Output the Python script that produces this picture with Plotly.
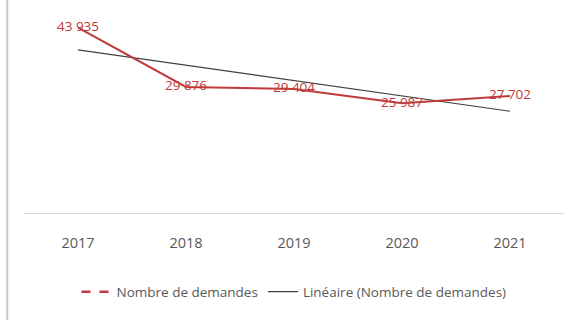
import plotly.graph_objects as go

years = ["2017", "2018", "2019", "2020", "2021"]
demandes = [43935, 29876, 29404, 25987, 27702]

serie_nom = "Nombre de demandes"
tendance_nom = "Linéaire (Nombre de demandes)"

# least-squares linear trend over the category index
n = len(demandes)
xs = list(range(n))
mx = sum(xs) / n
my = sum(demandes) / n
pente = sum((x - mx) * (y - my) for x, y in zip(xs, demandes)) / sum((x - mx) ** 2 for x in xs)
origine = my - pente * mx
tendance = [origine + pente * x for x in xs]

def fr(v):
    return f"{v:,}".replace(",", " ")

rouge = "#c0393b"
gris_txt = "#595959"
police = "Open Sans, sans-serif"

fig = go.Figure()

fig.add_trace(go.Scatter(
    x=years, y=tendance, mode="lines",
    line=dict(color="#404040", width=1.2),
    showlegend=False, hoverinfo="skip",
))

fig.add_trace(go.Scatter(
    x=years, y=demandes, mode="lines+text",
    line=dict(color=rouge, width=2),
    text=[fr(v) for v in demandes], textposition="middle center",
    textfont=dict(color=rouge, size=13.5, family=police),
    showlegend=False,
))

# legend entries
fig.add_trace(go.Scatter(
    x=[None], y=[None], mode="lines", name=serie_nom,
    line=dict(color=rouge, width=2.5, dash="dash"),
))
fig.add_trace(go.Scatter(
    x=[None], y=[None], mode="lines", name=tendance_nom,
    line=dict(color="#404040", width=1.2),
))

fig.update_layout(
    width=571, height=320,
    margin=dict(l=24, r=7, t=2, b=107),
    paper_bgcolor="white", plot_bgcolor="white",
    font=dict(family=police, color=gris_txt, size=13.5),
    xaxis=dict(
        type="category", range=[-0.5, 4.5],
        showgrid=False, zeroline=False,
        showline=True, linecolor="#d9d9d9", linewidth=1,
        ticks="", ticklabelstandoff=17,
        tickfont=dict(size=14.5, color=gris_txt, family=police),
    ),
    yaxis=dict(range=[0, 50000], visible=False),
    legend=dict(
        orientation="h", x=0.5, xanchor="center",
        y=-0.374, yanchor="middle",
        font=dict(size=13.5, color=gris_txt, family=police),
        itemwidth=30, tracegroupgap=0,
    ),
    shapes=[dict(
        type="line", xref="paper", yref="paper",
        x0=-0.031, x1=-0.031, y0=-0.6, y1=1.02,
        line=dict(color="#c8c8c8", width=2),
    )],
)

fig.write_html("out.html")
